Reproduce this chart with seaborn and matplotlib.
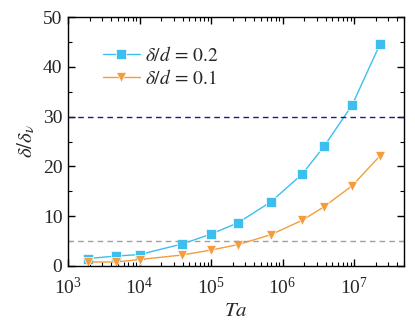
import numpy as np
import pandas as pd
import seaborn as sns
import matplotlib
matplotlib.use("Agg")
import matplotlib.pyplot as plt
from matplotlib.ticker import LogLocator, MultipleLocator, NullFormatter

ta_values = [1.9e3, 4.7e3, 1.0e4, 3.9e4, 1.0e5, 2.4e5, 6.9e5, 1.9e6, 3.8e6, 9.4e6, 2.3e7]
ratio_02 = [1.5, 2.0, 2.3, 4.4, 6.4, 8.7, 12.9, 18.5, 24.0, 32.3, 44.5]
ratio_01 = [0.8, 0.8, 1.3, 2.2, 3.2, 4.3, 6.3, 9.2, 11.9, 16.1, 22.1]
labels = [r"$\delta/d\,=\,0.2$", r"$\delta/d\,=\,0.1$"]
ref_lines = [30, 5]

sns.set_theme(style="ticks")
plt.rcParams["font.family"] = ["Liberation Serif", "DejaVu Serif"]
plt.rcParams["mathtext.fontset"] = "stix"

df = pd.DataFrame({
    "Ta": ta_values * 2,
    "val": ratio_02 + ratio_01,
    "series": [labels[0]] * len(ta_values) + [labels[1]] * len(ta_values),
})

fig = plt.figure(figsize=(4.15, 3.24), dpi=100)
ax = fig.add_axes([68/415, 58/324, 336/415, 249/324])

colors = {labels[0]: "#3cbfee", labels[1]: "#f59c3c"}
markers = {labels[0]: "s", labels[1]: "v"}
sns.lineplot(data=df, x="Ta", y="val", hue="series", style="series",
             palette=colors, markers=markers, dashes=False, ax=ax,
             markersize=7, linewidth=1.0, markeredgewidth=0.5)

ax.axhline(ref_lines[0], color="#1a1a8c", ls=(0, (4, 3)), lw=1)
ax.axhline(ref_lines[1], color="#a0a0a0", ls=(0, (4, 3)), lw=1)

ax.set_xscale("log")
ax.set_xlim(1e3, 5e7)
ax.set_ylim(0, 50)
ax.yaxis.set_major_locator(MultipleLocator(10))
ax.yaxis.set_minor_locator(MultipleLocator(5))
ax.xaxis.set_major_locator(LogLocator(base=10, numticks=10))
ax.xaxis.set_minor_locator(LogLocator(base=10, subs=np.arange(2, 10), numticks=20))
ax.xaxis.set_minor_formatter(NullFormatter())
ax.tick_params(which="both", direction="in", top=True, right=True, color="black")
ax.tick_params(which="major", length=5, width=1, labelsize=14)
ax.tick_params(axis="x", which="major", pad=8)
ax.tick_params(axis="y", which="major", pad=4)
ax.tick_params(which="minor", length=3, width=0.8)
for s in ax.spines.values():
    s.set_color("black")
    s.set_linewidth(1)

ax.set_xlabel(r"$Ta$", fontsize=15, labelpad=3)
ax.set_ylabel(r"$\delta/\delta_\nu$", fontsize=15, labelpad=4)

leg = ax.legend(loc="upper left", bbox_to_anchor=(0.08, 0.915), frameon=False,
                borderaxespad=0, fontsize=14, handlelength=1.9,
                handletextpad=0.3, labelspacing=0.2, title=None)

fig.savefig("out.png", dpi=100)
